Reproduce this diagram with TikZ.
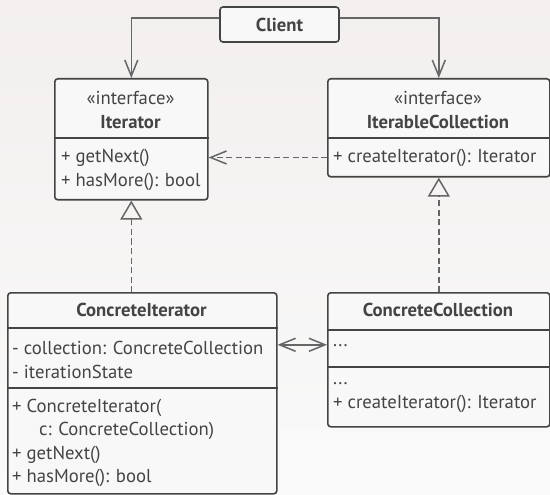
\documentclass[tikz,border=0pt]{standalone}
\usepackage{fontspec}
\setmainfont{PT Sans}
\usetikzlibrary{arrows.meta}

\definecolor{bgtop}{RGB}{242,239,238}
\definecolor{bgbot}{RGB}{250,250,250}
\definecolor{boxfill}{RGB}{249,248,248}
\definecolor{ink}{RGB}{68,68,68}
\definecolor{wire}{RGB}{102,102,102}

\begin{document}
\begin{tikzpicture}[
    x=1pt, y=-1pt,
    >={Straight Barb[length=16pt,width=13pt]},
    cls/.style={
        draw=ink,
        fill=boxfill,
        line width=1.6pt,
        rounded corners=3pt,
        anchor=north west,
        inner sep=0pt
    },
    sep/.style={draw=ink, line width=1.6pt},
    txt/.style={
        text=ink,
        inner sep=0pt,
        align=left,
        font=\fontsize{18.7}{24}\selectfont
    },
    head/.style={txt, align=center},
    assoc/.style={draw=wire, line width=1.5pt, ->},
    dep/.style={assoc, dash pattern=on 6pt off 3.5pt},
    real/.style={draw=wire, line width=1.5pt, dash pattern=on 6pt off 3.5pt,
        -{Triangle[open,length=19pt,width=22pt]}}
]
    % Fundo
    \fill[top color=bgtop, bottom color=bgbot] (0,0) rectangle (550,495);
    \useasboundingbox (0,0) rectangle (550,495);

    % Client
    \node[cls, anchor=center, minimum width=119pt, minimum height=35pt,
        text=ink, font=\fontsize{18.7}{24}\bfseries\selectfont] (client) at (279.5,24.5) {Client};

    % Iterator
    \node[cls, minimum width=153pt, minimum height=121pt] (iter) at (54,78) {};
    \draw[sep] ([yshift=-60pt]iter.north west) -- ([yshift=-60pt]iter.north east);
    \node[head] (iterHead) at (130.5,110) {«interface»\\\textbf{Iterator}};
    \node[txt, anchor=west] (iterOps) at (61,169.5) {+ getNext()\\+ hasMore(): bool};

    % IterableCollection
    \node[cls, minimum width=222pt, minimum height=98pt] (icoll) at (327,78) {};
    \draw[sep] ([yshift=-60pt]icoll.north west) -- ([yshift=-60pt]icoll.north east);
    \node[head] (icollHead) at (438,110) {«interface»\\\textbf{IterableCollection}};
    \node[txt, anchor=west] (icollOps) at (333,157.5) {+ createIterator(): Iterator};

    % ConcreteIterator
    \node[cls, minimum width=269pt, minimum height=201pt] (citer) at (7,292) {};
    \draw[sep] ([yshift=-36pt]citer.north west) -- ([yshift=-36pt]citer.north east);
    \draw[sep] ([yshift=-96pt]citer.north west) -- ([yshift=-96pt]citer.north east);
    \node[head] (citerHead) at (141.5,310) {\textbf{ConcreteIterator}};
    \node[txt, anchor=west] (citerFields) at (12,360) {- collection: ConcreteCollection\\- iterationState};
    \node[txt, anchor=west, font=\fontsize{18.7}{23.4}\selectfont] (citerOps) at (12,443)
        {+ ConcreteIterator(\\\hspace*{27pt}c: ConcreteCollection)\\+ getNext()\\+ hasMore(): bool};

    % ConcreteCollection
    \node[cls, minimum width=222pt, minimum height=134pt] (ccoll) at (327,292) {};
    \draw[sep] ([yshift=-38pt]ccoll.north west) -- ([yshift=-38pt]ccoll.north east);
    \draw[sep] ([yshift=-75pt]ccoll.north west) -- ([yshift=-75pt]ccoll.north east);
    \node[head] (ccollHead) at (438,310) {\textbf{ConcreteCollection}};
    \node[txt, anchor=west] (ccollFields) at (333,346) {...};
    \node[txt, anchor=west] (ccollOps) at (333,398) {...\\+ createIterator(): Iterator};

    % Setas
    \draw[assoc] ([yshift=6.5pt]client.west) -| (iter.north);
    \draw[assoc] ([yshift=6.5pt]client.east) -| (icoll.north);
    \draw[dep] (icollOps.west -| icoll.west) -- (icollOps.west -| iter.east);
    \draw[real] (iter.south |- citer.north) -- (iter.south);
    \draw[real] (ccoll.north) -- (icoll.south);
    \draw[assoc, <->] ([yshift=15pt]ccoll.west -| citer.east) -- ([yshift=15pt]ccoll.west);
\end{tikzpicture}
\end{document}
